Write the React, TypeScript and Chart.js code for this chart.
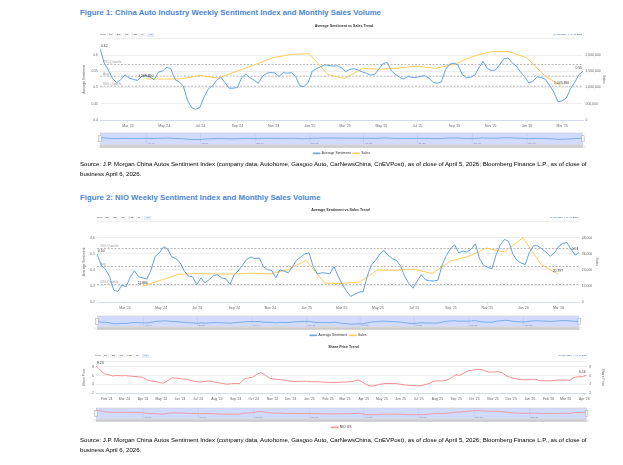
import { useEffect, useRef } from "react";
import { Chart, registerables } from "chart.js";

Chart.register(...registerables);

const FONT = "'Liberation Sans', Arial, Helvetica, sans-serif";
const BLUE = "#64a2e3";
const YELLOW = "#ffcc55";
const PINK = "#f29191";
const GRID = "#e6e6e6";
const AXIS = "#ccd6eb";
const TICK = "#666666";

// ---------- data ----------
const startDate = "2024-01-14"; // first weekly reading
const lastDate = "2026-04-05"; // last weekly reading

// weekly sentiment, China autos
const autoSentiment = [
  0.62, 0.576, 0.554, 0.528, 0.515, 0.524, 0.539, 0.529, 0.525, 0.522,
  0.534, 0.537, 0.532, 0.524, 0.547, 0.551, 0.562, 0.558, 0.525, 0.517,
  0.505, 0.461, 0.438, 0.433, 0.439, 0.471, 0.495, 0.505, 0.522, 0.532,
  0.516, 0.498, 0.498, 0.5, 0.53, 0.541, 0.531, 0.523, 0.513, 0.534,
  0.544, 0.546, 0.545, 0.534, 0.546, 0.544, 0.546, 0.533, 0.505, 0.503,
  0.516, 0.551, 0.558, 0.564, 0.57, 0.568, 0.566, 0.567, 0.561, 0.549,
  0.556, 0.558, 0.554, 0.548, 0.544, 0.538, 0.541, 0.558, 0.574, 0.577,
  0.551, 0.54, 0.531, 0.526, 0.535, 0.531, 0.531, 0.535, 0.536, 0.529,
  0.516, 0.513, 0.518, 0.556, 0.572, 0.575, 0.569, 0.54, 0.53, 0.532,
  0.538, 0.561, 0.58, 0.559, 0.552, 0.554, 0.571, 0.588, 0.591, 0.576,
  0.566, 0.548, 0.533, 0.514, 0.52, 0.533, 0.531, 0.525, 0.506, 0.486,
  0.456, 0.459, 0.468, 0.496, 0.516, 0.539, 0.55,
];

const salesMonths = [
  "2024-03", "2024-04", "2024-05", "2024-06", "2024-07", "2024-08",
  "2024-09", "2024-10", "2024-11", "2024-12", "2025-01", "2025-02",
  "2025-03", "2025-04", "2025-05", "2025-06", "2025-07", "2025-08",
  "2025-09", "2025-10", "2025-11", "2025-12", "2026-01", "2026-02",
];
const autoSales = [
  1269850, 1260000, 1270000, 1370000, 1290000, 1500000,
  1700000, 1920000, 2020000, 2040000, 1400000, 1280000,
  1590000, 1560000, 1600000, 1660000, 1590000, 1710000,
  1950000, 2100000, 2110000, 1920000, 1360000, 1045360,
];
const autoQuartiles = [0.571, 0.535, 0.504];

// weekly sentiment, NIO
const nioSentiment = [
  0.5, 0.43, 0.405, 0.36, 0.275, 0.265, 0.305, 0.295, 0.355, 0.395,
  0.357, 0.35, 0.343, 0.4, 0.485, 0.505, 0.544, 0.53, 0.48, 0.47,
  0.445, 0.392, 0.362, 0.356, 0.308, 0.35, 0.319, 0.34, 0.365, 0.37,
  0.35, 0.344, 0.31, 0.37, 0.395, 0.43, 0.465, 0.48, 0.47, 0.475,
  0.42, 0.402, 0.396, 0.35, 0.4, 0.392, 0.382, 0.42, 0.46, 0.48,
  0.5, 0.506, 0.42, 0.374, 0.382, 0.38, 0.375, 0.42, 0.36, 0.31,
  0.268, 0.235, 0.248, 0.261, 0.265, 0.36, 0.43, 0.46, 0.498, 0.522,
  0.492, 0.47, 0.46, 0.425, 0.36, 0.315, 0.286, 0.33, 0.37, 0.338,
  0.332, 0.331, 0.336, 0.43, 0.49, 0.53, 0.557, 0.505, 0.518, 0.51,
  0.53, 0.562, 0.47, 0.428, 0.415, 0.408, 0.495, 0.555, 0.59, 0.578,
  0.5, 0.46, 0.442, 0.434, 0.51, 0.55, 0.55, 0.53, 0.51, 0.485,
  0.505, 0.545, 0.565, 0.57, 0.53, 0.492, 0.509,
];
const nioSales = [
  11866, 16200, 20700, 21300, 20900, 20900,
  21600, 20900, 24100, 31100, 14200, 13800,
  14900, 23900, 23700, 24600, 21300, 30600,
  34000, 40300, 37300, 48100, 28000, 20797,
];
const nioQuartiles = [0.533, 0.421, 0.309];
const quartileNames = ["70% Quartile", "Avg", "30% Quartile"];

// weekly close, NIO US
const nioPrice = [
  8.24, 7.3, 6.4, 6.2, 5.9, 6.05, 5.95, 6.0, 5.9, 5.8,
  5.75, 5.6, 5.05, 4.75, 4.7, 4.4, 4.25, 4.9, 5.5, 5.4,
  5.3, 5.2, 5.0, 4.75, 4.55, 4.55, 4.7, 4.75, 4.55, 4.35,
  4.2, 4.0, 4.15, 4.2, 4.15, 5.2, 5.5, 5.6, 6.3, 6.7,
  6.1, 5.45, 5.2, 5.1, 5.05, 4.85, 4.72, 4.7, 4.65, 4.7,
  4.68, 4.6, 4.58, 4.55, 4.5, 4.45, 4.42, 4.45, 4.5, 4.5,
  4.6, 4.75, 5.0, 4.5, 3.9, 3.6, 3.7, 4.0, 4.15, 4.2,
  4.2, 4.15, 4.0, 3.85, 3.75, 3.7, 3.65, 3.72, 3.95, 4.3,
  4.75, 4.8, 4.8, 5.0, 5.5, 6.2, 6.05, 6.6, 7.1, 7.25,
  7.45, 7.4, 7.1, 6.8, 6.85, 6.9, 6.65, 5.95, 5.6, 5.3,
  5.15, 5.05, 5.05, 5.15, 5.15, 4.8, 4.8, 4.8, 4.85, 4.95,
  4.95, 4.95, 4.9, 5.6, 5.75, 5.75, 6.16,
];

// axis ticks
const twoMonthTicks = [
  "2024-03", "2024-05", "2024-07", "2024-09", "2024-11", "2025-01", "2025-03",
  "2025-05", "2025-07", "2025-09", "2025-11", "2026-01", "2026-03",
];
const monthTicks = [
  "2024-02", "2024-03", "2024-04", "2024-05", "2024-06", "2024-07", "2024-08",
  "2024-09", "2024-10", "2024-11", "2024-12", "2025-01", "2025-02", "2025-03",
  "2025-04", "2025-05", "2025-06", "2025-07", "2025-08", "2025-09", "2025-10",
  "2025-11", "2025-12", "2026-01", "2026-02", "2026-03", "2026-04",
];
const navTicks = ["2024-04", "2024-07", "2024-10", "2025-01", "2025-04", "2025-07", "2025-10", "2026-01"];
const autoSentTicks = [0.4, 0.45, 0.5, 0.55, 0.6];
const autoSalesTicks = [0, 500000, 1000000, 1500000, 2000000];
const nioSentTicks = [0.2, 0.3, 0.4, 0.5, 0.6];
const nioSalesTicks = [0, 12000, 24000, 36000, 48000];
const priceTicks = [2, 4, 6, 8];
const rangeButtons = ["1m", "3m", "6m", "YTD", "1y", "All"];

const sourceText =
  "Source: J.P. Morgan China Autos Sentiment Index (company data, Autohome, Gasgoo Auto, CarNewsChina, CnEVPost), as of close of April 5, 2026; Bloomberg Finance L.P., as of close of";
const sourceText2 = "business April 6, 2026.";

// ---------- helpers ----------
const MS_DAY = 86400000;
const MONTHS = ["Jan", "Feb", "Mar", "Apr", "May", "Jun", "Jul", "Aug", "Sep", "Oct", "Nov", "Dec"];
const toUTC = (s: string) => {
  const [y, m, d] = s.split("-").map(Number);
  return Date.UTC(y, m - 1, d || 1);
};
const dayOf = (s: string) => (toUTC(s) - toUTC(startDate)) / MS_DAY;
const monthEnd = (ym: string) => {
  const [y, m] = ym.split("-").map(Number);
  return (Date.UTC(y, m, 0) - toUTC(startDate)) / MS_DAY;
};
const monthLabel = (ym: string) => {
  const [y, m] = ym.split("-").map(Number);
  return `${MONTHS[m - 1]} '${String(y).slice(2)}`;
};
const longDate = (s: string) => {
  const [y, m, d] = s.split("-").map(Number);
  return `${d} ${MONTHS[m - 1]} ${y}`;
};
const LAST_DAY = dayOf(lastDate);
const weekly = (vals: number[]) => vals.map((y, i) => ({ x: i * 7, y }));
const monthly = (months: string[], vals: number[]) => vals.map((y, i) => ({ x: monthEnd(months[i]), y }));
const fmt2 = (v: number) => v.toFixed(2);
const fmtInt = (v: number) => Math.round(v).toLocaleString("en-US");

// ---------- plugins ----------
const refLinesPlugin = {
  id: "refLines",
  beforeDatasetsDraw(chart: any, _a: any, opts: any) {
    const lines = opts.lines || [];
    if (!lines.length) return;
    const { ctx, chartArea: a } = chart;
    const sc = chart.scales.y;
    ctx.save();
    ctx.strokeStyle = "#9a9a9a";
    ctx.lineWidth = 0.7;
    ctx.setLineDash([2, 1.5]);
    ctx.font = `3.2px ${FONT}`;
    ctx.fillStyle = "#9a9a9a";
    ctx.textBaseline = "bottom";
    lines.forEach((l: any) => {
      const y = sc.getPixelForValue(l.value);
      ctx.beginPath();
      ctx.moveTo(a.left, y);
      ctx.lineTo(a.right, y);
      ctx.stroke();
      ctx.fillText(l.label, a.left + 3, y - 0.6);
    });
    ctx.restore();
  },
};

const endLabelsPlugin = {
  id: "endLabels",
  afterDatasetsDraw(chart: any, _a: any, opts: any) {
    const items = opts.items || [];
    const { ctx, chartArea: a } = chart;
    ctx.save();
    ctx.font = `3.4px ${FONT}`;
    ctx.fillStyle = "#333333";
    ctx.textAlign = "center";
    ctx.textBaseline = "bottom";
    items.forEach((it: any) => {
      const raw = chart.data.datasets[it.dataset].data;
      const idx = it.last ? raw.length - 1 : 0;
      const pt = chart.getDatasetMeta(it.dataset).data[idx];
      if (!pt) return;
      const text = it.format(raw[idx].y);
      const w = ctx.measureText(text).width;
      const x = Math.min(Math.max(pt.x, a.left + w / 2 + 1), a.right - w / 2 - 1);
      ctx.fillText(text, x, pt.y - 1.2);
    });
    ctx.restore();
  },
};

const navigatorPlugin = {
  id: "navigatorDeco",
  beforeDatasetsDraw(chart: any) {
    const { ctx, chartArea: a } = chart;
    const xs = chart.scales.x;
    ctx.save();
    ctx.fillStyle = "rgba(102,133,255,0.3)";
    ctx.fillRect(a.left, a.top, a.right - a.left, a.bottom - a.top);
    ctx.strokeStyle = "rgba(90,90,140,0.18)";
    ctx.lineWidth = 0.5;
    ctx.font = `2.4px ${FONT}`;
    ctx.fillStyle = "rgba(70,70,110,0.55)";
    ctx.textBaseline = "bottom";
    navTicks.forEach((m) => {
      const x = xs.getPixelForValue(dayOf(`${m}-01`));
      ctx.beginPath();
      ctx.moveTo(x, a.top);
      ctx.lineTo(x, a.bottom);
      ctx.stroke();
      ctx.fillText(monthLabel(m), x + 1, a.bottom - 0.5);
    });
    ctx.restore();
  },
  afterDatasetsDraw(chart: any) {
    const { ctx, chartArea: a } = chart;
    ctx.save();
    ctx.strokeStyle = "#cccccc";
    ctx.lineWidth = 0.6;
    ctx.beginPath();
    ctx.moveTo(a.left, a.top);
    ctx.lineTo(a.right, a.top);
    ctx.moveTo(a.left, a.bottom);
    ctx.lineTo(a.right, a.bottom);
    ctx.stroke();
    const mid = (a.top + a.bottom) / 2;
    [a.left, a.right].forEach((x) => {
      ctx.fillStyle = "#f2f2f2";
      ctx.strokeStyle = "#999999";
      ctx.lineWidth = 0.4;
      ctx.fillRect(x - 1.3, mid - 3, 2.6, 6);
      ctx.strokeRect(x - 1.3, mid - 3, 2.6, 6);
    });
    // scrollbar
    ctx.fillStyle = "#f2f2f2";
    ctx.fillRect(a.left - 3, a.bottom + 0.6, a.right - a.left + 6, 2.6);
    ctx.fillStyle = "#cccccc";
    ctx.fillRect(a.left, a.bottom + 0.6, a.right - a.left, 2.6);
    ctx.restore();
  },
};

// ---------- config builders ----------
const tickFont = { family: FONT, size: 3.4 };

function xAxis(ticks: string[]) {
  return {
    type: "linear",
    min: 0,
    max: LAST_DAY,
    afterBuildTicks: (s: any) => {
      s.ticks = ticks.map((m) => ({ value: dayOf(`${m}-01`) }));
    },
    afterFit: (s: any) => {
      s.height = 10;
    },
    ticks: {
      callback: (_v: any, i: number) => monthLabel(ticks[i]),
      font: tickFont,
      color: TICK,
      maxRotation: 0,
      autoSkip: false,
      padding: 2,
    },
    grid: { drawOnChartArea: false, drawTicks: true, tickLength: 2.5, color: AXIS, lineWidth: 0.6 },
    border: { color: AXIS, width: 0.8 },
  };
}

function yAxis(p: {
  side: "left" | "right";
  ticks: number[];
  max: number;
  fmt: (v: number) => string;
  title: string;
  width: number;
}) {
  const left = p.side === "left";
  return {
    position: p.side,
    min: p.ticks[0],
    max: p.max,
    afterBuildTicks: (s: any) => {
      s.ticks = [...p.ticks, p.max].map((v) => ({ value: v }));
    },
    afterFit: (s: any) => {
      s.width = p.width;
    },
    ticks: {
      callback: (v: number) => (v === p.max ? "" : p.fmt(v)),
      font: tickFont,
      color: TICK,
      padding: left ? 2 : 2.5,
    },
    title: { display: true, text: p.title, font: { family: FONT, size: 3.4 }, color: TICK, padding: { top: 2, bottom: 0 } },
    grid: left
      ? { color: GRID, lineWidth: 0.7, drawTicks: false }
      : { drawOnChartArea: false, drawTicks: false },
    border: { display: false },
  };
}

function lineSet(label: string, data: any[], color: string, axis = "y") {
  return {
    label,
    data,
    yAxisID: axis,
    borderColor: color,
    backgroundColor: color,
    borderWidth: 1,
    pointRadius: 0,
    tension: 0,
  };
}

function mainConfig(p: any) {
  return {
    type: "line",
    data: { datasets: p.datasets },
    options: {
      animation: false,
      responsive: false,
      events: [],
      layout: { padding: 0 },
      plugins: {
        legend: { display: false },
        tooltip: { enabled: false },
        title: {
          display: true,
          text: p.title,
          color: "#333333",
          font: { family: FONT, size: 3.6, weight: "bold" },
          padding: { top: p.titlePad[0], bottom: p.titlePad[1] },
        },
        refLines: { lines: p.lines || [] },
        endLabels: { items: p.labels },
      },
      scales: {
        x: xAxis(p.xTicks),
        y: yAxis({ side: "left", ...p.y }),
        y1: yAxis({ side: "right", ...p.y1 }),
      },
    },
    plugins: [refLinesPlugin, endLabelsPlugin],
  };
}

function navConfig(p: any) {
  return {
    type: "line",
    data: {
      datasets: p.series.map((s: any) => ({ ...lineSet(s.label, s.data, s.color), borderWidth: 0.8 })),
    },
    options: {
      animation: false,
      responsive: false,
      events: [],
      layout: { padding: { left: p.padL, right: p.padR, top: 1, bottom: 0 } },
      plugins: {
        tooltip: { enabled: false },
        legend: {
          position: "bottom",
          labels: {
            font: { family: FONT, size: 3.4 },
            color: "#333333",
            boxWidth: 7,
            boxHeight: 0.8,
            padding: 2,
          },
        },
      },
      scales: {
        x: {
          type: "linear",
          min: 0,
          max: LAST_DAY,
          ticks: { display: false },
          grid: { display: false },
          border: { display: false },
          afterFit: (s: any) => {
            s.height = 5;
          },
        },
        y: { display: false, grace: "20%" },
      },
    },
    plugins: [navigatorPlugin],
  };
}

// ---------- components ----------
const CanvasChart = ({ make, left, top, width, height }: any) => {
  const ref = useRef<HTMLCanvasElement | null>(null);
  useEffect(() => {
    if (!ref.current) return;
    const chart = new Chart(ref.current, make() as any);
    return () => chart.destroy();
  }, [make]);
  return (
    <div style={{ position: "absolute", left, top, width, height }}>
      <canvas ref={ref} width={width} height={height} style={{ width, height, display: "block" }} />
    </div>
  );
};

const RangeSelector = ({ left, top, right }: { left: number; top: number; right: number }) => (
  <>
    <div
      style={{
        position: "absolute",
        left,
        top,
        display: "flex",
        alignItems: "center",
        gap: 1,
        fontSize: 2.4,
        fontFamily: FONT,
        color: "#333",
      }}
    >
      <span style={{ width: 6, color: "#666" }}>Zoom</span>
      {rangeButtons.map((b) => (
        <span
          key={b}
          style={{
            width: 7,
            height: 4.4,
            lineHeight: "4.4px",
            textAlign: "center",
            background: b === "All" ? "#e6ebf5" : "#f7f7f7",
            color: b === "All" ? "#335cad" : "#333",
          }}
        >
          {b}
        </span>
      ))}
    </div>
    <div
      style={{
        position: "absolute",
        right: 623 - right,
        top,
        height: 4.4,
        lineHeight: "4.4px",
        fontSize: 2.4,
        fontFamily: FONT,
        color: "#335cad",
        whiteSpace: "nowrap",
      }}
    >
      {longDate(startDate)} <span style={{ color: "#666" }}>→</span> {longDate(lastDate)}
    </div>
  </>
);

const figTitle = (text: string, top: number) => (
  <div
    style={{
      position: "absolute",
      left: 80,
      top,
      fontFamily: FONT,
      fontWeight: "bold",
      fontSize: 7.8,
      lineHeight: "8px",
      color: "#4a86cf",
      whiteSpace: "nowrap",
    }}
  >
    {text}
  </div>
);

const source = (top: number) => (
  <div
    style={{
      position: "absolute",
      left: 80,
      top,
      width: 540,
      fontFamily: FONT,
      fontSize: 6.1,
      lineHeight: "9.8px",
      color: "#000",
      whiteSpace: "nowrap",
    }}
  >
    {sourceText}
    <br />
    {sourceText2}
  </div>
);

const autoMain = () =>
  mainConfig({
    title: "Average Sentiment vs Sales Trend",
    titlePad: [4, 10.5],
    datasets: [
      lineSet("Average Sentiment", weekly(autoSentiment), BLUE, "y"),
      lineSet("Sales", monthly(salesMonths, autoSales), YELLOW, "y1"),
    ],
    xTicks: twoMonthTicks,
    y: { ticks: autoSentTicks, max: 0.65, fmt: (v: number) => String(v), title: "Average Sentiment", width: 20 },
    y1: { ticks: autoSalesTicks, max: 2500000, fmt: fmtInt, title: "Sales", width: 25 },
    lines: quartileNames.map((label, i) => ({ label, value: autoQuartiles[i] })),
    labels: [
      { dataset: 0, last: false, format: fmt2 },
      { dataset: 0, last: true, format: fmt2 },
      { dataset: 1, last: false, format: fmtInt },
      { dataset: 1, last: true, format: fmtInt },
    ],
  });

const autoNav = () =>
  navConfig({
    padL: 20,
    padR: 25,
    series: [
      { label: "Average Sentiment", data: weekly(autoSentiment), color: BLUE },
      { label: "Sales", data: [], color: YELLOW },
    ],
  });

const nioMain = () =>
  mainConfig({
    title: "Average Sentiment vs Sales Trend",
    titlePad: [4, 9.4],
    datasets: [
      lineSet("Average Sentiment", weekly(nioSentiment), BLUE, "y"),
      lineSet("Sales", monthly(salesMonths, nioSales), YELLOW, "y1"),
    ],
    xTicks: twoMonthTicks,
    y: { ticks: nioSentTicks, max: 0.7, fmt: (v: number) => String(v), title: "Average Sentiment", width: 17 },
    y1: { ticks: nioSalesTicks, max: 60000, fmt: fmtInt, title: "Sales", width: 21.7 },
    lines: quartileNames.map((label, i) => ({ label, value: nioQuartiles[i] })),
    labels: [
      { dataset: 0, last: false, format: fmt2 },
      { dataset: 0, last: true, format: fmt2 },
      { dataset: 1, last: false, format: fmtInt },
      { dataset: 1, last: true, format: fmtInt },
    ],
  });

const nioNav = () =>
  navConfig({
    padL: 17,
    padR: 21.7,
    series: [
      { label: "Average Sentiment", data: weekly(nioSentiment), color: BLUE },
      { label: "Sales", data: [], color: YELLOW },
    ],
  });

const priceMain = () =>
  mainConfig({
    title: "Share Price Trend",
    titlePad: [4.5, 12.9],
    datasets: [lineSet("NIO US", weekly(nioPrice), PINK, "y")],
    xTicks: monthTicks,
    y: { ticks: priceTicks, max: 9.2, fmt: (v: number) => String(v), title: "Share Price", width: 16 },
    y1: { ticks: priceTicks, max: 9.2, fmt: (v: number) => String(v), title: "Share Price", width: 20.3 },
    labels: [
      { dataset: 0, last: false, format: fmt2 },
      { dataset: 0, last: true, format: fmt2 },
    ],
  });

const priceNav = () =>
  navConfig({
    padL: 16,
    padR: 20.3,
    series: [{ label: "NIO US", data: weekly(nioPrice), color: PINK }],
  });

export default function App() {
  useEffect(() => {
    document.body.style.margin = "0";
    document.body.style.background = "#ffffff";
  }, []);
  return (
    <div style={{ position: "absolute", left: 0, top: 0, width: 623, height: 465, background: "#fff", overflow: "hidden" }}>
      {figTitle("Figure 1: China Auto Industry Weekly Sentiment Index and Monthly Sales Volume", 9)}
      <CanvasChart make={autoMain} left={80} top={20} width={528} height={110} />
      <RangeSelector left={100} top={32.5} right={582} />
      <CanvasChart make={autoNav} left={80} top={132} width={528} height={33} />
      {source(159)}

      {figTitle("Figure 2: NIO Weekly Sentiment Index and Monthly Sales Volume", 193.7)}
      <CanvasChart make={nioMain} left={80} top={204} width={521} height={108} />
      <RangeSelector left={96.7} top={215.5} right={578} />
      <CanvasChart make={nioNav} left={80} top={315} width={521} height={32} />

      <CanvasChart make={priceMain} left={80} top={340} width={527} height={63} />
      <RangeSelector left={95} top={353.5} right={587} />
      <CanvasChart make={priceNav} left={80} top={407} width={527} height={32} />
      {source(435)}
    </div>
  );
}
